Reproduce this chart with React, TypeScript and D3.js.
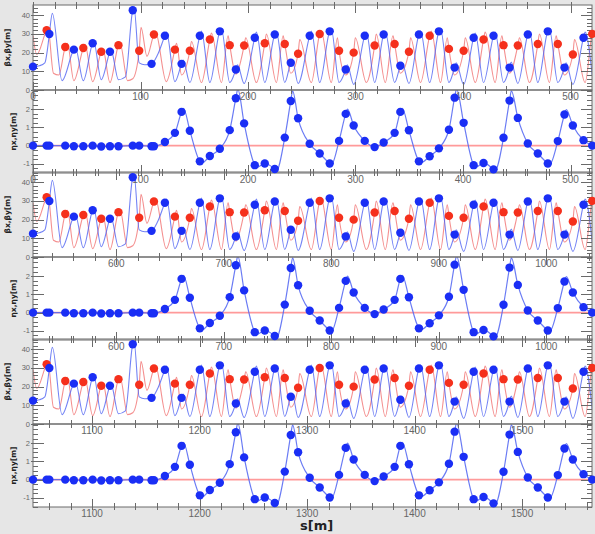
import React, { useEffect, useRef } from 'react'
import * as d3 from 'd3'

type Pt = [number, number]

// one lattice period, repeated in the three strips
const period = 522.5
const span = 520
const stripStart = [0, period, 2 * period]
const stripLabels = [
  [0, 100, 200, 300, 400, 500],
  [600, 700, 800, 900, 1000],
  [1100, 1200, 1300, 1400, 1500],
]
const betaTicks = [0, 10, 20, 30, 40]
const etaTicks = [-1, 0, 1, 2]

// beta_y (blue) at the markers
const betaYMarks: Pt[] = [
  [0, 12.5], [15.2, 30], [38, 21.6], [55.5, 25], [71.6, 20.5], [92.8, 42.7], [110.3, 14], [122.7, 29],
  [138.2, 14], [155.2, 29], [173.8, 31.4], [188.7, 11], [206.3, 28], [224.9, 29.7], [239.8, 14.6],
  [257.4, 29], [276, 31.4], [290.9, 11], [308.6, 29], [326.2, 29.7], [341.7, 13], [359, 29.7],
  [377.6, 31.4], [392.2, 12], [409.9, 28], [428.4, 29], [443.3, 12], [460.3, 29.7], [478.9, 31.4],
  [494.4, 12], [512.1, 28],
]
// beta_y curve between markers
const betaYCurve: Pt[] = [
  [6, 13], [11, 14.5], [13.5, 22], [18, 41], [27, 5], [39.5, 22.5], [46.8, 5], [56.5, 25.8], [63.5, 5.5],
  [72.5, 21.5], [79.5, 5.5], [86, 7], [94, 44], [98.8, 14.5], [104, 13.5], [116, 19], [124.2, 31],
  [132, 4.5], [139.7, 16], [145.9, 4],
  [156.7, 31.5], [164.5, 4], [175.3, 32.5], [183, 4], [190.2, 13.5], [196.4, 3.5],
  [207.8, 31], [215.6, 4], [226.4, 31], [234.2, 4], [241.3, 16], [246.6, 3.5],
  [258.9, 31.5], [266.7, 4], [277.5, 32.5], [284.7, 4], [292.4, 13.5], [298.3, 3],
  [310.1, 31], [317.8, 4], [327.7, 31], [336.4, 4], [343.2, 15], [349.7, 3.5],
  [360.5, 31.5], [369, 4], [379.1, 32.5], [386.9, 4], [393.7, 14.5], [400.6, 3],
  [411.4, 30.5], [419.1, 4], [429.9, 31], [437.7, 4], [444.8, 15], [451, 3.5],
  [461.8, 31.5], [469.6, 4], [480.4, 32.5], [488.2, 4], [495.9, 14.5], [502.2, 3],
  [513.6, 31], [520.2, 8],
]

// beta_x (red) at the markers
const betaXMarks: Pt[] = [
  [12.7, 32], [30, 23], [46.8, 22.5], [63.5, 20.5], [79.5, 24], [98.8, 21], [112.5, 29.7], [132, 21.6],
  [145.9, 21], [164.5, 27], [183, 24], [196.4, 23.8], [215.6, 25], [234.2, 24.6], [246.6, 19.4],
  [266.7, 30], [284.7, 21], [298.3, 20], [317.8, 23.8], [336.4, 24.6], [349.7, 20.5], [369, 29],
  [386.9, 22], [400.6, 21], [419.1, 27], [437.7, 24], [451, 23.8], [469.6, 24.6], [488.2, 24.6],
  [502.2, 19], [520.2, 30],
]
const betaXCurve: Pt[] = [
  [0, 29], [3.5, 19], [14, 33], [19, 9], [24, 8], [32, 25], [38, 5], [48.3, 24.5], [55.5, 4.5], [65, 22],
  [71.6, 4], [81, 25], [88, 5], [92.8, 6], [100.5, 33.5], [106, 18], [114, 31], [124, 4.5], [133.5, 25],
  [138.2, 8], [147.4, 26],
  [156.7, 4], [166, 30.5], [175.3, 4], [181.5, 29], [188.7, 8.5], [197.9, 28],
  [207.8, 4], [217.1, 30], [226.4, 4], [232.7, 29], [239.8, 9], [248.1, 27],
  [258.9, 4], [268, 31.5], [277.5, 4], [283.2, 28], [290.9, 8], [299.8, 28],
  [310.1, 4], [319.3, 30], [327.7, 4], [334.9, 29], [341.7, 9], [351.2, 28],
  [360.5, 4], [370.5, 31.5], [379.1, 4], [385.4, 28], [392.2, 8], [402.1, 28],
  [411.4, 4], [420.6, 31], [429.9, 4], [436.2, 29], [443.3, 9], [452.5, 28],
  [461.8, 4], [471.1, 30], [480.4, 4], [486.7, 29], [494.4, 8], [503.7, 27],
  [513.6, 4], [521.5, 31],
]

// eta_x (blue) at the markers
const etaXMarks: Pt[] = [
  [0, 0], [12.7, 0], [15.2, 0], [30, 0], [38, -0.03], [46.8, -0.03], [55.5, 0], [63.5, -0.05],
  [71.6, -0.03], [79.5, -0.03], [92.8, 0], [98.8, 0], [110.3, -0.03], [112.5, -0.03], [122.7, 0.2],
  [132, 0.7], [138.2, 1.85], [145.9, 0.82], [155.2, -0.86], [164.5, -0.57], [173.8, -0.17], [183, 0.85],
  [188.7, 2.6], [196.4, 1.22], [206.3, -1.07], [215.6, -0.98], [224.9, -1.28], [234.2, 0.44],
  [239.8, 2.45], [246.6, 1.5], [257.4, 0.1], [266.7, -0.43], [276, -0.98], [284.7, 0.26], [290.9, 1.74],
  [298.3, 1.1], [308.6, 0.26], [317.8, -0.08], [326.2, 0.17], [336.4, 0.7], [341.7, 1.85], [349.7, 0.84],
  [359, -0.86], [369, -0.58], [377.6, -0.15], [386.9, 0.87], [392.2, 2.63], [400.6, 1.25],
  [409.9, -1.07], [419.1, -0.95], [428.4, -1.3], [437.7, 0.43], [443.3, 2.47], [451, 1.52],
  [460.3, 0.12], [469.6, -0.43], [478.9, -0.98], [488.2, 0.25], [494.4, 1.71], [502.2, 1.1],
  [512.1, 0.3], [520.2, 0],
]
const etaXCurve: Pt[] = [
  [140, 2.05], [157, -0.95], [190.5, 3.1], [208, -1.2], [226.5, -1.36], [241.5, 3.0], [277.5, -1.05],
  [292.5, 2.0], [343.5, 2.05], [360.5, -0.95], [394, 3.1], [411.5, -1.2], [429.8, -1.36], [445, 3.0],
  [480.5, -1.05], [496, 1.98],
]
const etaYCurve: Pt[] = [[0, 0], [period, 0]]

const W = 595
const H = 534
const plotL = 33
const plotR = 592
const stripTop = [5, 172, 339]
const betaH = 85
const etaH = 83

const blueDot = '#1a2ef5'
const redDot = '#f5301c'
const blueLine = '#5064f2'
const redLine = '#f06060'
const axisCol = '#6a6a6a'

const joined = (a: Pt[], b: Pt[]) => [...a, ...b].sort((p, q) => p[0] - q[0])

const App = () => {
  const ref = useRef<SVGSVGElement>(null)

  useEffect(() => {
    const svg = d3.select(ref.current)
    svg.selectAll('*').remove()
    svg.append('rect').attr('width', W).attr('height', H).attr('fill', '#e6e6e6')

    const defs = svg.append('defs')
    const bgLayer = svg.append('g')
    const lineLayer = svg.append('g')
    const axisLayer = svg.append('g')
    const dotLayer = svg.append('g')

    const panels: any[] = []
    stripStart.forEach((s0, k) => {
      const top = stripTop[k]
      const x = d3.scaleLinear().domain([s0, s0 + span]).range([plotL, plotR])
      panels.push({ kind: 'beta', x, s0, top, bottom: top + betaH, labels: stripLabels[k] })
      panels.push({ kind: 'eta', x, s0, top: top + betaH, bottom: top + betaH + etaH, labels: stripLabels[k] })
    })

    panels.forEach((p, i) => {
      const { x, s0, top, bottom } = p
      const beta = p.kind === 'beta'
      const y = d3.scaleLinear().domain(beta ? [0, 45.5] : [-1.5, 3.05]).range([bottom, top])

      bgLayer.append('rect').attr('x', plotL).attr('y', top)
        .attr('width', plotR - plotL).attr('height', bottom - top).attr('fill', '#fff')

      defs.append('clipPath').attr('id', 'clip' + i).append('rect')
        .attr('x', plotL).attr('y', top).attr('width', plotR - plotL).attr('height', bottom - top)

      const line = d3.line<Pt>()
        .x((d) => x(d[0] + s0))
        .y((d) => y(d[1]))
        .curve(d3.curveMonotoneX)

      const g = lineLayer.append('g').attr('clip-path', `url(#clip${i})`)
      const series = beta
        ? [
            { pts: joined(betaXCurve, betaXMarks), col: redLine, w: 1.1, op: 0.7 },
            { pts: joined(betaYCurve, betaYMarks), col: blueLine, w: 1.1, op: 0.8 },
          ]
        : [
            { pts: etaYCurve, col: '#ff9a9a', w: 1.6, op: 1 },
            { pts: joined(etaXCurve, etaXMarks), col: blueLine, w: 1.2, op: 0.85 },
          ]
      series.forEach((s) => {
        g.append('path').datum(s.pts)
          .attr('fill', 'none').attr('stroke', s.col).attr('stroke-width', s.w)
          .attr('stroke-opacity', s.op).attr('stroke-linejoin', 'round').attr('d', line)
      })

      const dots = beta
        ? [{ pts: betaXMarks, col: redDot }, { pts: betaYMarks, col: blueDot }]
        : [{ pts: etaXMarks, col: blueDot }]
      dots.forEach((s) => {
        dotLayer.append('g').selectAll('circle').data(s.pts).join('circle')
          .attr('cx', (d) => x(d[0] + s0)).attr('cy', (d) => y(d[1]))
          .attr('r', 4.2).attr('fill', s.col)
      })

      // frame and ticks
      const a = axisLayer.append('g').attr('stroke', axisCol).attr('stroke-width', 1)
      a.append('rect').attr('x', plotL).attr('y', top)
        .attr('width', plotR - plotL).attr('height', bottom - top).attr('fill', 'none')

      const [d0, d1] = x.domain()
      const minorX = d3.range(Math.ceil(d0 / 20) * 20, d1, 20)
      minorX.forEach((v) => {
        const major = v % 100 === 0
        const xx = Math.round(x(v)) + 0.5
        a.append('line').attr('x1', xx).attr('x2', xx).attr('y1', bottom + 3).attr('y2', bottom - (major ? 8 : 4))
        a.append('line').attr('x1', xx).attr('x2', xx).attr('y1', top - 3).attr('y2', top + (major ? 8 : 4))
      })

      const ticks = beta ? betaTicks : etaTicks
      const step = beta ? 2 : 0.25
      const minorY = d3.range(y.domain()[0], y.domain()[1], step)
        .map((v) => Math.round(v / step) * step)
        .filter((v) => v >= y.domain()[0])
      minorY.forEach((v) => {
        const yy = Math.round(y(v)) + 0.5
        a.append('line').attr('x1', plotL).attr('x2', plotL + 5).attr('y1', yy).attr('y2', yy)
        a.append('line').attr('x1', plotR).attr('x2', plotR - 5).attr('y1', yy).attr('y2', yy)
      })
      ticks.forEach((v) => {
        const yy = Math.round(y(v)) + 0.5
        a.append('line').attr('x1', plotL - 2).attr('x2', plotL + 11).attr('y1', yy).attr('y2', yy)
        a.append('line').attr('x1', plotR).attr('x2', plotR - 11).attr('y1', yy).attr('y2', yy)
      })

      const t = axisLayer.append('g').attr('font-family', 'Liberation Sans, Arial, sans-serif').attr('fill', '#666')
      t.selectAll('text.yl').data(ticks).join('text')
        .attr('x', plotL - 3).attr('y', (v) => y(v) + 2.5)
        .attr('text-anchor', 'end').attr('font-size', 7.5).text((v) => String(v))
      t.selectAll('text.xl').data(p.labels as number[]).join('text')
        .attr('x', (v) => x(v)).attr('y', bottom + 10)
        .attr('text-anchor', 'middle').attr('font-size', 10).text((v) => String(v))

      const titleY = (top + bottom) / 2
      const tx = beta ? 10 : 16
      axisLayer.append('text')
        .attr('transform', `translate(${tx},${titleY}) rotate(-90)`)
        .attr('text-anchor', 'middle').attr('font-family', 'DejaVu Sans, sans-serif')
        .attr('font-size', 7.5).attr('font-weight', 'bold').attr('fill', '#222')
        .text(beta ? 'βx,βy[m]' : 'ηx,ηy[m]')
    })

    svg.append('text').attr('x', 300).attr('y', 530)
      .attr('font-family', 'DejaVu Sans, sans-serif').attr('font-size', 13).attr('font-weight', 'bold')
      .attr('fill', '#222').text('s[m]')
  }, [])

  return <svg ref={ref} width={W} height={H} style={{ position: 'absolute', left: 0, top: 0 }} />
}

export default App
